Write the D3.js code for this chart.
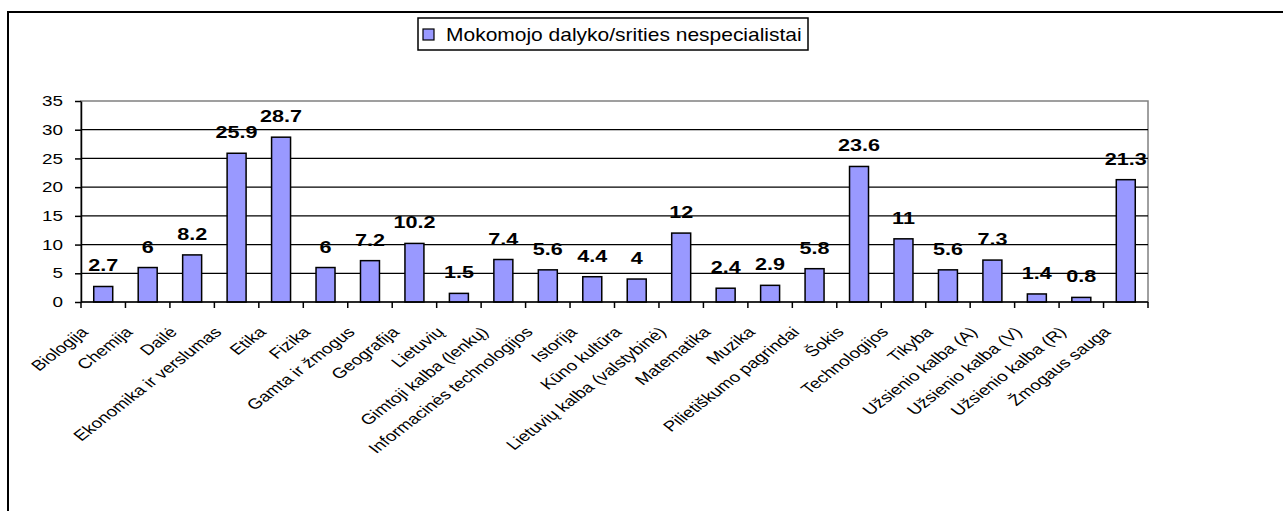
<!DOCTYPE html>
<html lang="lt">
<head>
  <meta charset="utf-8">
  <title>Mokomojo dalyko/srities nespecialistai</title>
  <script src="https://d3js.org/d3.v7.min.js"></script>
  <style>
    body { margin: 0; background: #fff; overflow: hidden; }
    svg { display: block; }
    text { font-family: "Liberation Sans", Arial, sans-serif; fill: #000; }
  </style>
</head>
<body>
  <div id="chart"></div>
  <script>
    // data
    var subjects = ["Biologija", "Chemija", "Dailė", "Ekonomika ir verslumas", "Etika", "Fizika",
      "Gamta ir žmogus", "Geografija", "Lietuvių", "Gimtoji kalba (lenkų)", "Informacinės technologijos",
      "Istorija", "Kūno kultūra", "Lietuvių kalba (valstybinė)", "Matematika", "Muzika",
      "Pilietiškumo pagrindai", "Šokis", "Technologijos", "Tikyba", "Užsienio kalba (A)",
      "Užsienio kalba (V)", "Užsienio kalba (R)", "Žmogaus sauga"];
    var values = [2.7, 6, 8.2, 25.9, 28.7, 6, 7.2, 10.2, 1.5, 7.4, 5.6, 4.4, 4, 12, 2.4, 2.9,
      5.8, 23.6, 11, 5.6, 7.3, 1.4, 0.8, 21.3];
    var yTicks = [0, 5, 10, 15, 20, 25, 30, 35];
    var seriesName = "Mokomojo dalyko/srities nespecialistai";

    var width = 1283, height = 511;
    var sx = 1.35; // text in the original is stretched sideways

    var svg = d3.select("#chart").append("svg")
      .attr("width", width)
      .attr("height", height);

    // chart frame: only the top and left edges are inside the page
    svg.append("path")
      .attr("d", "M8," + height + "V12H" + width)
      .attr("fill", "none").attr("stroke", "#000").attr("stroke-width", 2);

    var plot = { left: 81, right: 1148, top: 101, bottom: 302 };

    var x = d3.scaleBand()
      .domain(subjects)
      .range([plot.left, plot.right])
      .paddingInner(0.573)
      .paddingOuter(0.2865);

    var y = d3.scaleLinear()
      .domain([0, 35])
      .range([plot.bottom, plot.top]);

    // plot area border
    svg.append("rect")
      .attr("x", plot.left).attr("y", plot.top)
      .attr("width", plot.right - plot.left).attr("height", plot.bottom - plot.top)
      .attr("fill", "none").attr("stroke", "#808080").attr("stroke-width", 1.5);

    // gridlines
    svg.append("g").selectAll("line")
      .data(yTicks.filter(function (d) { return d > 0 && d < 35; }))
      .join("line")
      .attr("x1", plot.left).attr("x2", plot.right)
      .attr("y1", function (d) { return y(d); }).attr("y2", function (d) { return y(d); })
      .attr("stroke", "#000").attr("stroke-width", 1.2);

    // bars
    svg.append("g").selectAll("rect")
      .data(values)
      .join("rect")
      .attr("x", function (d, i) { return x(subjects[i]); })
      .attr("y", function (d) { return y(d); })
      .attr("width", x.bandwidth())
      .attr("height", function (d) { return y(0) - y(d); })
      .attr("fill", "#9999ff")
      .attr("stroke", "#000")
      .attr("stroke-width", 1.5);

    // y axis
    var yAxis = svg.append("g")
      .attr("transform", "translate(" + plot.left + ",0)")
      .call(d3.axisLeft(y).tickValues(yTicks).tickSize(6).tickSizeOuter(0));
    yAxis.select(".domain").attr("stroke", "#000").attr("stroke-width", 1.5);
    yAxis.selectAll(".tick line").attr("stroke", "#000").attr("stroke-width", 1.5);
    yAxis.selectAll(".tick text")
      .attr("font-size", 14)
      .attr("font-family", "Liberation Sans, Arial, sans-serif")
      .attr("x", null).attr("dy", null)
      .attr("dominant-baseline", "central")
      .attr("transform", "translate(-18,0) scale(" + sx + ",1)");

    // x axis line and ticks between categories
    svg.append("line")
      .attr("x1", plot.left).attr("x2", plot.right)
      .attr("y1", plot.bottom).attr("y2", plot.bottom)
      .attr("stroke", "#000").attr("stroke-width", 1.5);
    svg.append("g").selectAll("line")
      .data(d3.range(subjects.length + 1))
      .join("line")
      .attr("x1", function (i) { return plot.left + i * x.step(); })
      .attr("x2", function (i) { return plot.left + i * x.step(); })
      .attr("y1", plot.bottom).attr("y2", plot.bottom + 6)
      .attr("stroke", "#000").attr("stroke-width", 1.5);

    // category labels, rotated
    svg.append("g").selectAll("text")
      .data(subjects)
      .join("text")
      .attr("font-size", 14.5)
      .attr("text-anchor", "end")
      .attr("transform", function (d) {
        return "translate(" + (x(d) + x.bandwidth() / 2 - 14) + "," + (plot.bottom + 31) + ") scale(1.3,1) rotate(-45)";
      })
      .text(function (d) { return d; });

    // value labels
    svg.append("g").selectAll("text")
      .data(values)
      .join("text")
      .attr("font-size", 16)
      .attr("font-weight", "bold")
      .attr("text-anchor", "middle")
      .attr("transform", function (d, i) {
        return "translate(" + (x(subjects[i]) + x.bandwidth() / 2) + "," + (y(d) - 15) + ") scale(" + sx + ",1)";
      })
      .text(function (d) { return d; });

    // legend
    var legend = svg.append("g");
    legend.append("rect")
      .attr("x", 418).attr("y", 18).attr("width", 390).attr("height", 32)
      .attr("fill", "#fff").attr("stroke", "#000").attr("stroke-width", 1.5);
    legend.append("rect")
      .attr("x", 423).attr("y", 29).attr("width", 11).attr("height", 11)
      .attr("fill", "#9999ff").attr("stroke", "#000").attr("stroke-width", 1.2);
    legend.append("text")
      .attr("font-size", 17.5)
      .attr("transform", "translate(446,41) scale(1.2,1)")
      .text(seriesName);
  </script>
</body>
</html>
